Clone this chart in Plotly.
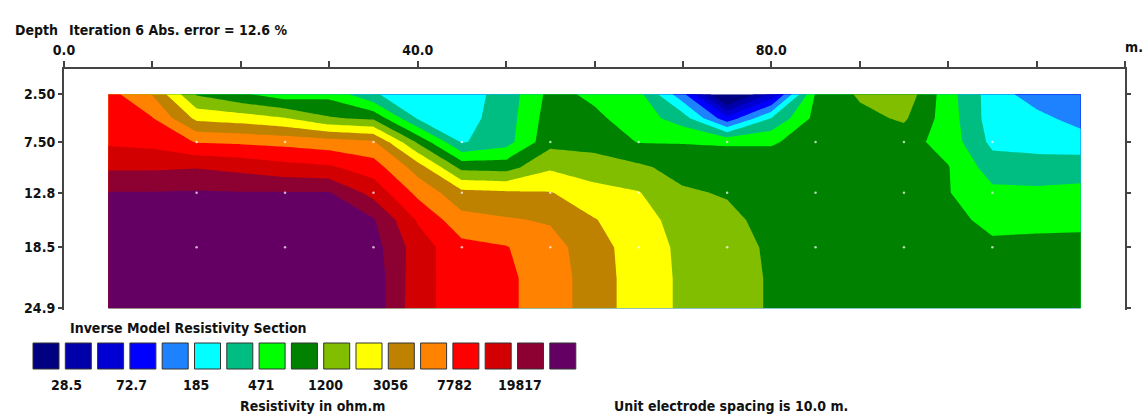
import numpy as np
import plotly.graph_objects as go

# ---------------- data ----------------
# sampling positions of the section (m) and depths (m)
x_m = [5, 10, 15, 20, 25, 30, 35, 40, 45, 50, 55, 60, 65, 70, 75, 80, 85, 90, 95, 100, 105, 110, 115]
depth_m = [2.5, 5.0, 7.5, 10.15, 12.8, 15.65, 18.5, 21.7, 24.9]

# resistivity (ohm.m) at each depth, along x_m
rho_d2_50 = [9380, 4760, 1144, 806, 581, 653, 309, 223, 234, 356, 865, 684, 542, 133, 11.2, 52.3, 787, 1286, 1663, 568, 234, 146, 121]
rho_d5_00 = [9830, 7960, 2720, 2420, 1960, 1256, 1092, 282, 245, 373, 949, 825, 595, 373, 83.5, 298, 865, 1042, 1286, 595, 234, 213, 153]
rho_d7_50 = [11570, 10790, 7600, 7250, 6760, 6015, 5230, 1118, 282, 390, 1042, 1042, 734, 734, 717, 717, 906, 949, 906, 623, 262.5, 245, 234]
rho_d10_2 = [18470, 18470, 19350, 17220, 14620, 13320, 9830, 3950, 1042, 995, 1784, 1446, 1316, 995, 949, 949, 949, 949, 949, 769, 373, 364, 373]
rho_d12_8 = [32360, 32360, 33130, 32360, 32360, 32360, 16820, 6920, 3514, 3276, 3126, 2308, 1960, 1286, 1144, 949, 949, 949, 949, 769, 529, 517, 542]
rho_d15_7 = [39940, 39940, 39940, 39940, 39940, 39020, 33130, 11850, 5740, 5107, 4651, 3126, 2308, 1587, 1380, 995, 949, 949, 949, 906, 638, 653, 668]
rho_d18_5 = [45960, 45960, 45960, 45960, 45960, 43860, 38120, 15680, 8950, 7960, 5876, 3682, 2420, 1743, 1446, 1118, 949, 949, 949, 949, 845, 865, 865]
rho_d21_7 = [48150, 48150, 48150, 48150, 48150, 47040, 41850, 14970, 9600, 8540, 6157, 3858, 2420, 1784, 1480, 1144, 949, 949, 949, 949, 906, 906, 906]
rho_d24_9 = [48150, 48150, 48150, 48150, 48150, 48150, 41850, 14620, 9830, 8540, 6157, 3858, 2420, 1784, 1480, 1144, 949, 949, 949, 949, 906, 906, 906]

# model block centres (faint white dots)
node_x = [15, 25, 35, 45, 55, 65, 75, 85, 95, 105]
node_depth = [7.5, 12.8, 18.5]

legend_values = [28.5, 72.7, 185, 471, 1200, 3056, 7782, 19817]
legend_labels = ["28.5", "72.7", "185", "471", "1200", "3056", "7782", "19817"]

band_colors = ["#000080", "#0000AA", "#0000D2", "#0000FF", "#1E82FF", "#00FFFF",
               "#00BE82", "#00FF00", "#008200", "#82BE00", "#FFFF00", "#BE8200",
               "#FF8200", "#FF0000", "#D20000", "#8C0032", "#640064"]

x_tick_vals = [0, 10, 20, 30, 40, 50, 60, 70, 80, 90, 100, 110, 120]
x_tick_text = ["0.0", "", "", "", "40.0", "", "", "", "80.0", "", "", "", ""]
y_tick_vals = [2.5, 7.5, 12.8, 18.5, 24.9]
y_tick_text = ["2.50", "7.50", "12.8", "18.5", "24.9"]

# ---------------- build ----------------
FONT = "Liberation Sans Narrow, DejaVu Sans Condensed, Arial Narrow, sans-serif"
TXT = "#111111"
FS = 14
W, H = 1145, 417
L, R, T, B = 64, 20, 69, 107
PW, PH = W - L - R, H - T - B

def px(x):
    return (x - L) / PW

def py(y):
    return (H - B - y) / PH

rows = [rho_d2_50, rho_d5_00, rho_d7_50, rho_d10_2, rho_d12_8,
        rho_d15_7, rho_d18_5, rho_d21_7, rho_d24_9]
z = np.log10(np.array(rows, dtype=float))
lo = np.log10(legend_values[0])
hi = np.log10(legend_values[-1])
step = (hi - lo) / (2 * (len(legend_values) - 1))
n_levels = len(band_colors) - 1
colorscale = [[j / n_levels, c] for j, c in enumerate(band_colors)]

fig = go.Figure()
fig.add_trace(go.Contour(
    x=x_m, y=depth_m, z=z,
    autocontour=False,
    contours=dict(start=lo, end=lo + (n_levels - 1) * step, size=step,
                  coloring="fill", showlines=False),
    colorscale=colorscale, showscale=False,
    line=dict(width=0, smoothing=0),
    hoverinfo="skip",
))

gx, gy = np.meshgrid(node_x, node_depth)
fig.add_trace(go.Scatter(x=gx.ravel(), y=gy.ravel(), mode="markers",
                         marker=dict(size=2.5, color="rgba(255,255,255,0.7)"),
                         hoverinfo="skip"))

axis_col = "#444444"
tfont = dict(family=FONT, size=FS, color=TXT, weight="bold")
fig.update_layout(
    width=W, height=H,
    margin=dict(l=L, r=R, t=T, b=B, pad=0),
    paper_bgcolor="white", plot_bgcolor="white",
    showlegend=False,
    font=tfont,
    xaxis=dict(side="top", range=[0, 120], tickvals=x_tick_vals, ticktext=x_tick_text,
               ticks="outside", ticklen=6, tickwidth=1.5, tickcolor=axis_col,
               showline=True, linecolor=axis_col, linewidth=2,
               showgrid=False, zeroline=False, tickfont=tfont),
    yaxis=dict(range=[25.08, -0.15], tickvals=y_tick_vals, ticktext=y_tick_text,
               ticks="outside", ticklen=4, tickwidth=1.5, tickcolor=axis_col,
               showline=True, linecolor=axis_col, linewidth=2, mirror="ticks",
               showgrid=False, zeroline=False, tickfont=tfont),
)

ann = []
def text(s, x, y, anchor="left", size=FS):
    ann.append(dict(text=s, x=px(x), y=py(y), xref="paper", yref="paper",
                    xanchor=anchor, yanchor="middle", showarrow=False,
                    font=dict(family=FONT, size=size, color=TXT, weight="bold")))

text("Depth", 13, 30)
text("Iteration 6 Abs. error = 12.6 %", 67, 30)
text("m.", 1145, 47, anchor="right")
text("Inverse Model Resistivity Section", 68, 328)
text("Resistivity in ohm.m", 238, 406)
text("Unit electrode spacing is 10.0 m.", 612, 406)
for k, lab in enumerate(legend_labels):
    text(lab, 66.7 + 64.7 * k, 385, anchor="center")

shapes = []
for j, c in enumerate(band_colors):
    x0 = 33 + 32.3 * j
    shapes.append(dict(type="rect", xref="paper", yref="paper",
                       x0=px(x0), x1=px(x0 + 26), y0=py(369), y1=py(343),
                       fillcolor=c, line=dict(color="#333333", width=1)))

fig.update_layout(annotations=ann, shapes=shapes)

fig.write_html("out.html", config={"displayModeBar": False},
               post_script="document.body.style.margin='0';")
